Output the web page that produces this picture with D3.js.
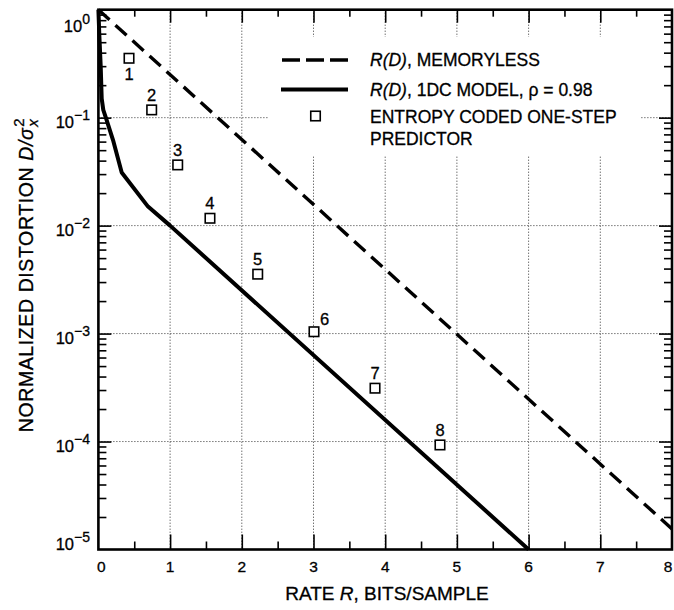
<!DOCTYPE html>
<html>
<head>
<meta charset="utf-8">
<script src="https://cdn.jsdelivr.net/npm/d3@7"></script>
<style>
  html, body { margin: 0; padding: 0; background: #fff; }
  svg { display: block; font-family: "Liberation Sans", Arial, Helvetica, sans-serif; }
  svg text { fill: #000; stroke: #000; stroke-width: 0.3px; }
</style>
</head>
<body>
<svg id="chart" width="674" height="610"></svg>
<script>
// Rate–distortion curves and measured points
const memRate = [0, 8];
const memDist = [1, 1.55e-5];

const dcRate = [0, 0.012, 0.032, 0.046, 0.068, 0.106, 0.204, 0.325, 0.692, 1.0, 6.0];
const dcDist = [1, 0.6, 0.3, 0.15, 0.118, 0.099, 0.062, 0.031, 0.015, 0.01, 1e-5];

const ptRate  = [0.427, 0.743, 1.106, 1.556, 2.222, 3.007, 3.858, 4.764];
const ptDist  = [0.355, 0.118, 0.0365, 0.0117, 0.00355, 0.00104, 3.12e-4, 9.3e-5];
const ptLabel = ["1", "2", "3", "4", "5", "6", "7", "8"];

const xMajor = [0, 1, 2, 3, 4, 5, 6, 7, 8];
const xMinor = [0.5, 1.5, 2.5, 3.5, 4.5, 5.5, 6.5, 7.5];
const yMajor = [1, 1e-1, 1e-2, 1e-3, 1e-4, 1e-5];
const yExp   = ["0", "\u22121", "\u22122", "\u22123", "\u22124", "\u22125"];

const legendItems = [
  { kind: "dash",   parts: [["R(D)", true], [", MEMORYLESS", false]] },
  { kind: "solid",  parts: [["R(D)", true], [", 1DC MODEL, \u03c1 = 0.98", false]] },
  { kind: "square", parts: [["ENTROPY CODED ONE-STEP", false]], extra: "PREDICTOR" }
];

const svg = d3.select("#chart");
const L = 98.4, R = 672, T = 9.7, B = 549.5;

const x = d3.scaleLinear().domain([0, 8]).range([L, R]);
const y = d3.scaleLog().domain([1e-5, 1]).range([B, T]);

const yMinor = [];
yMajor.slice(0, -1).forEach(d => {
  for (let k = 2; k <= 9; k++) yMinor.push(d / 10 * k);
});

// dotted grid
const grid = svg.append("g").attr("stroke", "#333").attr("stroke-width", 1)
  .attr("stroke-dasharray", "1,2");
grid.selectAll("line.gx").data(xMajor.slice(1, -1)).join("line")
  .attr("x1", d => x(d)).attr("x2", d => x(d)).attr("y1", T).attr("y2", B);
grid.selectAll("line.gy").data(yMajor.slice(1, -1)).join("line")
  .attr("x1", L).attr("x2", R).attr("y1", d => y(d)).attr("y2", d => y(d));

// axes ticks (inward)
function clean(g) { g.select(".domain").remove(); g.selectAll("text").remove(); g.selectAll("line").attr("stroke", "#000").attr("stroke-width", 1.6); }
svg.append("g").attr("transform", `translate(0,${B})`)
  .call(d3.axisBottom(x).tickValues(xMajor.slice(1, -1)).tickSizeInner(-15).tickSizeOuter(0)).call(clean);
svg.append("g").attr("transform", `translate(0,${B})`)
  .call(d3.axisBottom(x).tickValues(xMinor).tickSizeInner(-8).tickSizeOuter(0)).call(clean);
svg.append("g").attr("transform", `translate(0,${T})`)
  .call(d3.axisTop(x).tickValues(xMajor.slice(1, -1)).tickSizeInner(-13).tickSizeOuter(0)).call(clean);
svg.append("g").attr("transform", `translate(0,${T})`)
  .call(d3.axisTop(x).tickValues(xMinor).tickSizeInner(-7).tickSizeOuter(0)).call(clean);
svg.append("g").attr("transform", `translate(${L},0)`)
  .call(d3.axisLeft(y).tickValues(yMajor.slice(1, -1)).tickSizeInner(-13).tickSizeOuter(0)).call(clean);
svg.append("g").attr("transform", `translate(${L},0)`)
  .call(d3.axisLeft(y).tickValues(yMinor).tickSizeInner(-8).tickSizeOuter(0)).call(clean);
svg.append("g").attr("transform", `translate(${R},0)`)
  .call(d3.axisRight(y).tickValues(yMajor.slice(1, -1)).tickSizeInner(-13).tickSizeOuter(0)).call(clean);
svg.append("g").attr("transform", `translate(${R},0)`)
  .call(d3.axisRight(y).tickValues(yMinor).tickSizeInner(-8).tickSizeOuter(0)).call(clean);

// x tick labels
svg.append("g").selectAll("text").data(xMajor).join("text")
  .attr("x", d => Math.min(Math.max(x(d), L + 3), 668))
  .attr("y", 572).attr("text-anchor", "middle").attr("font-size", 15.5)
  .text(d => d);

// y tick labels as powers of ten
const yl = svg.append("g").selectAll("text").data(yMajor).join("text")
  .attr("x", 90)
  .attr("y", d => Math.min(Math.max(y(d) + 10.5, 31.5), 550))
  .attr("text-anchor", "end").attr("font-size", 16.5);
yl.append("tspan").text("10");
yl.append("tspan").attr("font-size", 14).attr("dy", -8).text((d, i) => yExp[i]);

// legend background
svg.append("rect").attr("x", 268).attr("y", 37).attr("width", 372).attr("height", 118).attr("fill", "#fff");

// curves
const line = d3.line().x(d => x(d[0])).y(d => y(d[1]));
svg.append("path").datum(memRate.map((r, i) => [r, memDist[i]]))
  .attr("d", line).attr("fill", "none").attr("stroke", "#000")
  .attr("stroke-width", 3.4).attr("stroke-dasharray", "15,8");
svg.append("path").datum(dcRate.map((r, i) => [r, dcDist[i]]))
  .attr("d", line).attr("fill", "none").attr("stroke", "#000")
  .attr("stroke-width", 4).attr("stroke-linejoin", "round");

// frame
svg.append("rect").attr("x", L).attr("y", T).attr("width", R - L).attr("height", B - T)
  .attr("fill", "none").attr("stroke", "#000").attr("stroke-width", 2.6);

// measured points
const pts = ptRate.map((r, i) => ({ r, d: ptDist[i], lab: ptLabel[i] }));
const sq = 9.5;
svg.append("g").selectAll("rect").data(pts).join("rect")
  .attr("x", p => x(p.r) - sq / 2).attr("y", p => y(p.d) - sq / 2)
  .attr("width", sq).attr("height", sq)
  .attr("fill", "#fff").attr("stroke", "#000").attr("stroke-width", 1.6);

const labelPlace = { "1": [0, 21.5, "middle"], "6": [6, -6.5, "start"] };
svg.append("g").selectAll("text").data(pts).join("text")
  .attr("x", p => x(p.r) + (labelPlace[p.lab] ? labelPlace[p.lab][0] : 0))
  .attr("y", p => y(p.d) + (labelPlace[p.lab] ? labelPlace[p.lab][1] : -9))
  .attr("text-anchor", p => labelPlace[p.lab] ? labelPlace[p.lab][2] : "middle")
  .attr("font-size", 16.5)
  .text(p => p.lab);

// legend
const lg = svg.append("g");
const rowY = [60, 89.5, 116];
const textY = [66, 95.5, 122.5];
legendItems.forEach((it, i) => {
  if (it.kind === "dash") {
    lg.append("line").attr("x1", 282).attr("x2", 348).attr("y1", rowY[i]).attr("y2", rowY[i])
      .attr("stroke", "#000").attr("stroke-width", 3.4).attr("stroke-dasharray", "18,6");
  } else if (it.kind === "solid") {
    lg.append("line").attr("x1", 281).attr("x2", 348).attr("y1", rowY[i]).attr("y2", rowY[i])
      .attr("stroke", "#000").attr("stroke-width", 4);
  } else {
    lg.append("rect").attr("x", 315.5 - sq / 2).attr("y", rowY[i] - sq / 2).attr("width", sq).attr("height", sq)
      .attr("fill", "#fff").attr("stroke", "#000").attr("stroke-width", 1.6);
  }
  const t = lg.append("text").attr("x", 370).attr("y", textY[i]).attr("font-size", 17.5);
  it.parts.forEach(([s, ital]) => t.append("tspan").attr("font-style", ital ? "italic" : null).text(s));
  if (it.extra) lg.append("text").attr("x", 370).attr("y", textY[i] + 22).attr("font-size", 17.5).text(it.extra);
});

// axis titles
const xt = svg.append("text").attr("x", 387).attr("y", 600).attr("text-anchor", "middle").attr("font-size", 19);
xt.append("tspan").text("RATE ");
xt.append("tspan").attr("font-style", "italic").text("R");
xt.append("tspan").text(", BITS/SAMPLE");

const yt = svg.append("text").attr("transform", "translate(32.5,275) rotate(-90)")
  .attr("text-anchor", "middle").attr("font-size", 19.5).attr("letter-spacing", 0.6);
yt.append("tspan").text("NORMALIZED DISTORTION ");
yt.append("tspan").attr("font-style", "italic").text("D/\u03c3");
yt.append("tspan").attr("font-size", 15).attr("dy", -9).attr("dx", 1).text("2");
yt.append("tspan").attr("font-size", 15).attr("font-style", "italic").attr("dx", -9).attr("dy", 14).text("x");
</script>
</body>
</html>
